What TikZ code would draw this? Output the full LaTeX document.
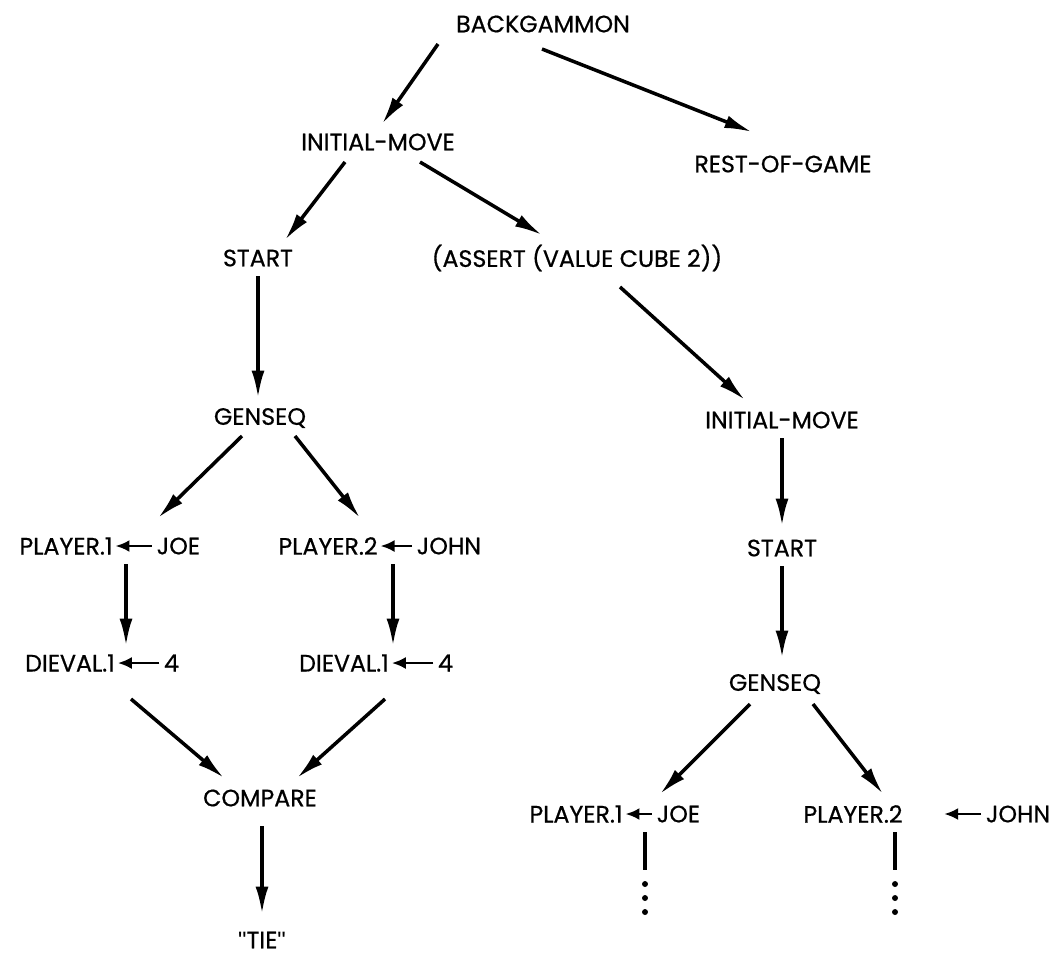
\documentclass[tikz,border=0pt]{standalone}
\usepackage{fontspec}
\setmainfont{Poppins}[UprightFeatures={FakeBold=0.6}]
\newfontfamily\quotefont{Liberation Sans}
\usetikzlibrary{arrows.meta, positioning}

\begin{document}
\begin{tikzpicture}[
    x=0.2mm, y=-0.2mm,
    font=\fontsize{13.5pt}{15pt}\selectfont,
    >={Latex[length=5.5mm,width=2.6mm]},
    term/.style={inner sep=1pt, text=black},
    flow/.style={->, line width=2pt},
    assign/.style={-{Latex[length=2.8mm,width=2.4mm]}, line width=1.5pt,
        shorten >=0.5pt, shorten <=1.5pt},
    stem/.style={line width=2pt},
]
\useasboundingbox (0,0) rectangle (1054,959);

% --- Top of the tree -------------------------------------------------------
\node[term] (bg)   at (543, 24)  {BACKGAMMON};
\node[term] (im1)  at (378, 142) {INITIAL-MOVE};
\node[term] (rest) at (783, 164) {REST-OF-GAME};
\node[term] (st1)  at (258, 258) {START};
\node[term] (asrt) at (577, 258) {(ASSERT (VALUE CUBE 2))};

% --- Left branch -----------------------------------------------------------
\node[term] (gs1) at (260, 418) {GENSEQ};
\node[term] (p1)  at (66, 546)  {PLAYER.1};
\node[term, right=8mm of p1] (joe1) {JOE};
\node[term] (p2)  at (328, 546) {PLAYER.2};
\node[term, right=7mm of p2] (john1) {JOHN};
\node[term] (dv1) at (70, 663)  {DIEVAL.1};
\node[term, right=9mm of dv1] (four1) {4};
\node[term] (dv2) at (344, 663) {DIEVAL.1};
\node[term, right=9mm of dv2] (four2) {4};
\node[term] (cmp) at (260, 798) {COMPARE};
\node[term] (tie) at (262, 940) {{\quotefont\symbol{34}}TIE{\quotefont\symbol{34}}};

% --- Right branch ----------------------------------------------------------
\node[term] (im2) at (782, 420) {INITIAL-MOVE};
\node[term] (st2) at (782, 548) {START};
\node[term] (gs2) at (775, 684) {GENSEQ};
\node[term] (p3)  at (576, 814) {PLAYER.1};
\node[term, right=6mm of p3] (joe2) {JOE};
\node[term] (p4)  at (853, 814) {PLAYER.2};
\node[term] (john2) at (1018, 814) {JOHN};

% --- Assignments -----------------------------------------------------------
\draw[assign] (joe1.west)  -- (p1.east);
\draw[assign] (john1.west) -- (p2.east);
\draw[assign] (four1.west) -- (dv1.east);
\draw[assign] (four2.west) -- (dv2.east);
\draw[assign] (joe2.west)  -- (p3.east);
\draw[assign] (john2.west) -- ([xshift=22pt]p4.east);

% --- Tree edges ------------------------------------------------------------
\draw[flow] ([shift={(-105,20)}]bg.center) -- ([shift={(4,-18)}]im1.center);
\draw[flow] ([shift={(-1,25)}]bg.center)   -- ([shift={(-31,-32)}]rest.center);
\draw[flow] ([shift={(-33,20)}]im1.center) -- ([shift={(27,-18)}]st1.center);
\draw[flow] ([shift={(42,20)}]im1.center)  -- ([shift={(-35,-23)}]asrt.center);
\draw[flow] ([shift={(0,18)}]st1.center)   -- ([shift={(-2,-20)}]gs1.center);
\draw[flow] ([shift={(43,29)}]asrt.center) -- ([shift={(-37,-20)}]im2.center);
\draw[flow] ([shift={(-18,18)}]gs1.center) -- ([shift={(92,-28)}]p1.center);
\draw[flow] ([shift={(35,18)}]gs1.center)  -- ([shift={(32,-28)}]p2.center);
\draw[flow] ([shift={(60,18)}]p1.center)   -- ([shift={(56,-17)}]dv1.center);
\draw[flow] ([shift={(65,18)}]p2.center)   -- ([shift={(49,-17)}]dv2.center);
\draw[flow] ([shift={(61,36)}]dv1.center)  -- ([shift={(-36,-20)}]cmp.center);
\draw[flow] ([shift={(41,36)}]dv2.center)  -- ([shift={(37,-20)}]cmp.center);
\draw[flow] ([shift={(2,28)}]cmp.center)   -- ([shift={(0,-26)}]tie.center);
\draw[flow] ([shift={(0,18)}]im2.center)   -- ([shift={(0,-22)}]st2.center);
\draw[flow] ([shift={(0,18)}]st2.center)   -- ([shift={(7,-26)}]gs2.center);
\draw[flow] ([shift={(-25,20)}]gs2.center) -- ([shift={(84,-20)}]p3.center);
\draw[flow] ([shift={(38,20)}]gs2.center)  -- ([shift={(30,-20)}]p4.center);

% --- Continuations ---------------------------------------------------------
\coordinate (p3end) at ([shift={(69,56)}]p3.center);
\coordinate (p4end) at ([shift={(42,56)}]p4.center);
\draw[stem] ([shift={(69,18)}]p3.center) -- (p3end);
\draw[stem] ([shift={(42,18)}]p4.center) -- (p4end);
\foreach \e in {p3end, p4end}
    \foreach \k in {1,2,3}
        \fill ([yshift=-\k*2.8mm]\e) circle (1.7pt);

\end{tikzpicture}
\end{document}
